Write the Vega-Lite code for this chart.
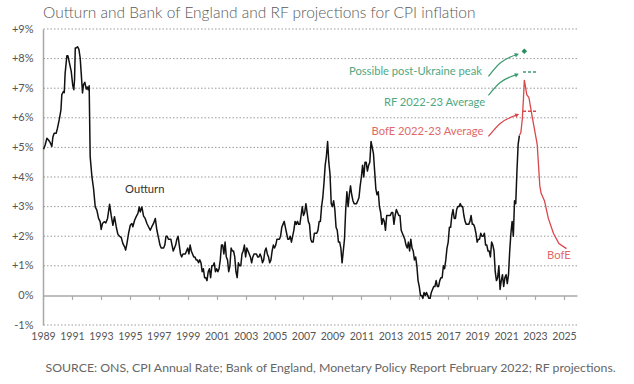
{
  "$schema": "https://vega.github.io/schema/vega-lite/v6.json",
  "width": 534,
  "height": 296,
  "autosize": "none",
  "padding": {"left": 43, "top": 29, "right": 57, "bottom": 59},
  "title": {"text": "Outturn and Bank of England and RF projections for CPI inflation", "anchor": "start", "frame": "group", "fontSize": 15.5, "fontWeight": 300, "color": "#5a5a5a", "font": "Lato", "offset": 2},
  "config": {
    "view": {"stroke": null},
    "font": "Lato",
    "axis": {"labelFont": "Lato", "titleFont": "Lato", "labelOverlap": false}
  },
  "datasets": {
    "gridlines": [{"v": -1}, {"v": 1}, {"v": 2}, {"v": 3}, {"v": 4}, {"v": 5}, {"v": 6}, {"v": 7}, {"v": 8}, {"v": 9}],
    "outturn": [
      {"t":1989.04,"v":4.94},{"t":1989.15,"v":5.08},{"t":1989.27,"v":5.31},{"t":1989.38,"v":5.25},{"t":1989.5,"v":5.16},{"t":1989.61,"v":5.03},{"t":1989.68,"v":5.34},{"t":1989.77,"v":5.48},{"t":1989.91,"v":5.48},{"t":1990.0,"v":5.65},{"t":1990.12,"v":5.93},{"t":1990.24,"v":6.27},{"t":1990.3,"v":6.78},{"t":1990.42,"v":6.89},{"t":1990.47,"v":6.85},{"t":1990.53,"v":7.51},{"t":1990.65,"v":8.1},{"t":1990.72,"v":8.1},{"t":1990.83,"v":7.85},{"t":1990.95,"v":7.57},{"t":1991.06,"v":7.08},{"t":1991.13,"v":6.95},{"t":1991.18,"v":7.29},{"t":1991.23,"v":8.36},{"t":1991.29,"v":8.36},{"t":1991.39,"v":8.4},{"t":1991.48,"v":8.31},{"t":1991.57,"v":8.02},{"t":1991.64,"v":7.51},{"t":1991.73,"v":6.84},{"t":1991.8,"v":7.12},{"t":1991.89,"v":7.2},{"t":1991.99,"v":6.97},{"t":1992.05,"v":7.04},{"t":1992.12,"v":6.95},{"t":1992.19,"v":7.08},{"t":1992.26,"v":4.69},{"t":1992.38,"v":4.01},{"t":1992.49,"v":3.62},{"t":1992.61,"v":2.99},{"t":1992.72,"v":2.88},{"t":1992.84,"v":2.6},{"t":1992.95,"v":2.49},{"t":1993.02,"v":2.23},{"t":1993.11,"v":2.43},{"t":1993.23,"v":2.49},{"t":1993.34,"v":2.45},{"t":1993.46,"v":2.6},{"t":1993.6,"v":3.08},{"t":1993.71,"v":2.71},{"t":1993.83,"v":2.37},{"t":1993.94,"v":2.66},{"t":1994.06,"v":2.32},{"t":1994.17,"v":2.07},{"t":1994.29,"v":2.0},{"t":1994.41,"v":1.95},{"t":1994.52,"v":1.75},{"t":1994.64,"v":1.64},{"t":1994.71,"v":1.53},{"t":1994.8,"v":1.75},{"t":1994.91,"v":2.09},{"t":1995.03,"v":2.37},{"t":1995.14,"v":2.43},{"t":1995.21,"v":2.32},{"t":1995.33,"v":2.54},{"t":1995.44,"v":2.66},{"t":1995.56,"v":2.77},{"t":1995.65,"v":2.99},{"t":1995.72,"v":2.82},{"t":1995.83,"v":2.99},{"t":1995.95,"v":2.68},{"t":1996.06,"v":2.6},{"t":1996.18,"v":2.43},{"t":1996.29,"v":2.32},{"t":1996.41,"v":2.2},{"t":1996.52,"v":2.32},{"t":1996.64,"v":2.43},{"t":1996.76,"v":2.6},{"t":1996.87,"v":2.2},
      {"t":1997.0,"v":1.9},{"t":1997.083,"v":1.7},{"t":1997.167,"v":1.6},{"t":1997.25,"v":1.6},{"t":1997.333,"v":1.6},{"t":1997.417,"v":1.7},{"t":1997.5,"v":2.0},{"t":1997.583,"v":2.0},{"t":1997.667,"v":1.9},{"t":1997.75,"v":1.9},{"t":1997.833,"v":1.9},{"t":1997.917,"v":1.7},
      {"t":1998.0,"v":1.5},{"t":1998.083,"v":1.6},{"t":1998.167,"v":1.7},{"t":1998.25,"v":1.9},{"t":1998.333,"v":2.0},{"t":1998.417,"v":1.7},{"t":1998.5,"v":1.4},{"t":1998.583,"v":1.3},{"t":1998.667,"v":1.4},{"t":1998.75,"v":1.4},{"t":1998.833,"v":1.4},{"t":1998.917,"v":1.5},
      {"t":1999.0,"v":1.6},{"t":1999.083,"v":1.4},{"t":1999.167,"v":1.7},{"t":1999.25,"v":1.5},{"t":1999.333,"v":1.4},{"t":1999.417,"v":1.3},{"t":1999.5,"v":1.3},{"t":1999.583,"v":1.2},{"t":1999.667,"v":1.2},{"t":1999.75,"v":1.1},{"t":1999.833,"v":1.2},{"t":1999.917,"v":1.1},
      {"t":2000.0,"v":0.8},{"t":2000.083,"v":0.9},{"t":2000.167,"v":0.6},{"t":2000.25,"v":0.6},{"t":2000.333,"v":0.5},{"t":2000.417,"v":0.8},{"t":2000.5,"v":0.9},{"t":2000.583,"v":0.6},{"t":2000.667,"v":1.0},{"t":2000.75,"v":1.0},{"t":2000.833,"v":1.1},{"t":2000.917,"v":0.8},
      {"t":2001.0,"v":0.9},{"t":2001.083,"v":0.8},{"t":2001.167,"v":0.9},{"t":2001.25,"v":1.2},{"t":2001.333,"v":1.7},{"t":2001.417,"v":1.7},{"t":2001.5,"v":1.4},{"t":2001.583,"v":1.8},{"t":2001.667,"v":1.3},{"t":2001.75,"v":1.2},{"t":2001.833,"v":0.8},{"t":2001.917,"v":1.0},
      {"t":2002.0,"v":1.6},{"t":2002.083,"v":1.5},{"t":2002.167,"v":1.5},{"t":2002.25,"v":1.3},{"t":2002.333,"v":0.8},{"t":2002.417,"v":0.6},{"t":2002.5,"v":1.1},{"t":2002.583,"v":1.0},{"t":2002.667,"v":1.0},{"t":2002.75,"v":1.4},{"t":2002.833,"v":1.5},{"t":2002.917,"v":1.7},
      {"t":2003.0,"v":1.3},{"t":2003.083,"v":1.6},{"t":2003.167,"v":1.5},{"t":2003.25,"v":1.4},{"t":2003.333,"v":1.3},{"t":2003.417,"v":1.1},{"t":2003.5,"v":1.3},{"t":2003.583,"v":1.4},{"t":2003.667,"v":1.4},{"t":2003.75,"v":1.4},{"t":2003.833,"v":1.3},{"t":2003.917,"v":1.3},
      {"t":2004.0,"v":1.4},{"t":2004.083,"v":1.3},{"t":2004.167,"v":1.1},{"t":2004.25,"v":1.2},{"t":2004.333,"v":1.5},{"t":2004.417,"v":1.6},{"t":2004.5,"v":1.4},{"t":2004.583,"v":1.3},{"t":2004.667,"v":1.1},{"t":2004.75,"v":1.2},{"t":2004.833,"v":1.5},{"t":2004.917,"v":1.7},
      {"t":2005.0,"v":1.6},{"t":2005.083,"v":1.7},{"t":2005.167,"v":1.9},{"t":2005.25,"v":1.9},{"t":2005.333,"v":1.9},{"t":2005.417,"v":2.0},{"t":2005.5,"v":2.3},{"t":2005.583,"v":2.4},{"t":2005.667,"v":2.5},{"t":2005.75,"v":2.3},{"t":2005.833,"v":2.1},{"t":2005.917,"v":1.9},
      {"t":2006.0,"v":1.9},{"t":2006.083,"v":2.0},{"t":2006.167,"v":1.8},{"t":2006.25,"v":2.0},{"t":2006.333,"v":2.2},{"t":2006.417,"v":2.5},{"t":2006.5,"v":2.4},{"t":2006.583,"v":2.5},{"t":2006.667,"v":2.4},{"t":2006.75,"v":2.4},{"t":2006.833,"v":2.7},{"t":2006.917,"v":3.0},
      {"t":2007.0,"v":2.7},{"t":2007.083,"v":2.8},{"t":2007.167,"v":3.1},{"t":2007.25,"v":2.8},{"t":2007.333,"v":2.5},{"t":2007.417,"v":2.4},{"t":2007.5,"v":1.9},{"t":2007.583,"v":1.8},{"t":2007.667,"v":1.8},{"t":2007.75,"v":2.1},{"t":2007.833,"v":2.1},{"t":2007.917,"v":2.1},
      {"t":2008.0,"v":2.2},{"t":2008.083,"v":2.5},{"t":2008.167,"v":2.5},{"t":2008.25,"v":3.0},{"t":2008.333,"v":3.3},{"t":2008.417,"v":3.8},{"t":2008.5,"v":4.4},{"t":2008.583,"v":4.7},{"t":2008.667,"v":5.2},{"t":2008.75,"v":4.5},{"t":2008.833,"v":4.1},{"t":2008.917,"v":3.1},
      {"t":2009.0,"v":3.0},{"t":2009.083,"v":3.2},{"t":2009.167,"v":2.9},{"t":2009.25,"v":2.3},{"t":2009.333,"v":2.2},{"t":2009.417,"v":1.8},{"t":2009.5,"v":1.8},{"t":2009.583,"v":1.6},{"t":2009.667,"v":1.1},{"t":2009.75,"v":1.5},{"t":2009.833,"v":1.9},{"t":2009.917,"v":2.9},
      {"t":2010.0,"v":3.5},{"t":2010.083,"v":3.0},{"t":2010.167,"v":3.4},{"t":2010.25,"v":3.7},{"t":2010.333,"v":3.4},{"t":2010.417,"v":3.2},{"t":2010.5,"v":3.1},{"t":2010.583,"v":3.1},{"t":2010.667,"v":3.1},{"t":2010.75,"v":3.2},{"t":2010.833,"v":3.3},{"t":2010.917,"v":3.7},
      {"t":2011.0,"v":4.0},{"t":2011.083,"v":4.4},{"t":2011.167,"v":4.0},{"t":2011.25,"v":4.5},{"t":2011.333,"v":4.5},{"t":2011.417,"v":4.2},{"t":2011.5,"v":4.4},{"t":2011.583,"v":4.5},{"t":2011.667,"v":5.2},{"t":2011.75,"v":5.0},{"t":2011.833,"v":4.8},{"t":2011.917,"v":4.2},
      {"t":2012.0,"v":3.6},{"t":2012.083,"v":3.4},{"t":2012.167,"v":3.5},{"t":2012.25,"v":3.0},{"t":2012.333,"v":2.8},{"t":2012.417,"v":2.4},{"t":2012.5,"v":2.6},{"t":2012.583,"v":2.5},{"t":2012.667,"v":2.2},{"t":2012.75,"v":2.7},{"t":2012.833,"v":2.7},{"t":2012.917,"v":2.7},
      {"t":2013.0,"v":2.7},{"t":2013.083,"v":2.8},{"t":2013.167,"v":2.8},{"t":2013.25,"v":2.4},{"t":2013.333,"v":2.7},{"t":2013.417,"v":2.9},{"t":2013.5,"v":2.8},{"t":2013.583,"v":2.7},{"t":2013.667,"v":2.7},{"t":2013.75,"v":2.2},{"t":2013.833,"v":2.1},{"t":2013.917,"v":2.0},
      {"t":2014.0,"v":1.9},{"t":2014.083,"v":1.7},{"t":2014.167,"v":1.6},{"t":2014.25,"v":1.8},{"t":2014.333,"v":1.5},{"t":2014.417,"v":1.9},{"t":2014.5,"v":1.6},{"t":2014.583,"v":1.5},{"t":2014.667,"v":1.2},{"t":2014.75,"v":1.3},{"t":2014.833,"v":1.0},{"t":2014.917,"v":0.5},
      {"t":2015.0,"v":0.3},{"t":2015.083,"v":0.0},{"t":2015.167,"v":0.0},{"t":2015.25,"v":-0.1},{"t":2015.333,"v":0.1},{"t":2015.417,"v":0.0},{"t":2015.5,"v":0.1},{"t":2015.583,"v":0.0},{"t":2015.667,"v":-0.1},{"t":2015.75,"v":-0.1},{"t":2015.833,"v":0.1},{"t":2015.917,"v":0.2},
      {"t":2016.0,"v":0.3},{"t":2016.083,"v":0.3},{"t":2016.167,"v":0.5},{"t":2016.25,"v":0.3},{"t":2016.333,"v":0.3},{"t":2016.417,"v":0.5},{"t":2016.5,"v":0.6},{"t":2016.583,"v":0.6},{"t":2016.667,"v":1.0},{"t":2016.75,"v":0.9},{"t":2016.833,"v":1.2},{"t":2016.917,"v":1.6},
      {"t":2017.0,"v":1.8},{"t":2017.083,"v":2.3},{"t":2017.167,"v":2.3},{"t":2017.25,"v":2.7},{"t":2017.333,"v":2.9},{"t":2017.417,"v":2.6},{"t":2017.5,"v":2.6},{"t":2017.583,"v":2.9},{"t":2017.667,"v":3.0},{"t":2017.75,"v":3.0},{"t":2017.833,"v":3.1},{"t":2017.917,"v":3.0},
      {"t":2018.0,"v":3.0},{"t":2018.083,"v":2.7},{"t":2018.167,"v":2.5},{"t":2018.25,"v":2.4},{"t":2018.333,"v":2.4},{"t":2018.417,"v":2.4},{"t":2018.5,"v":2.5},{"t":2018.583,"v":2.7},{"t":2018.667,"v":2.4},{"t":2018.75,"v":2.4},{"t":2018.833,"v":2.3},{"t":2018.917,"v":2.1},
      {"t":2019.0,"v":1.8},{"t":2019.083,"v":1.9},{"t":2019.167,"v":1.9},{"t":2019.25,"v":2.1},{"t":2019.333,"v":2.0},{"t":2019.417,"v":2.0},{"t":2019.5,"v":2.1},{"t":2019.583,"v":1.7},{"t":2019.667,"v":1.7},{"t":2019.75,"v":1.5},{"t":2019.833,"v":1.5},{"t":2019.917,"v":1.3},
      {"t":2020.0,"v":1.8},{"t":2020.083,"v":1.7},{"t":2020.167,"v":1.5},{"t":2020.25,"v":0.8},{"t":2020.333,"v":0.5},{"t":2020.417,"v":0.6},{"t":2020.5,"v":1.0},{"t":2020.583,"v":0.2},{"t":2020.667,"v":0.5},{"t":2020.75,"v":0.7},{"t":2020.833,"v":0.3},{"t":2020.917,"v":0.6},
      {"t":2021.0,"v":0.7},{"t":2021.083,"v":0.4},{"t":2021.167,"v":0.7},{"t":2021.25,"v":1.5},{"t":2021.333,"v":2.1},{"t":2021.417,"v":2.5},{"t":2021.5,"v":2.0},{"t":2021.583,"v":3.2},{"t":2021.667,"v":3.1},{"t":2021.75,"v":4.2},{"t":2021.833,"v":5.1},{"t":2021.917,"v":5.4}
    ],
    "bofe": [
      {"t":2021.917,"v":5.4},{"t":2022.02,"v":5.5},{"t":2022.12,"v":5.95},{"t":2022.2,"v":6.65},{"t":2022.26,"v":7.28},{"t":2022.43,"v":6.78},{"t":2022.58,"v":6.68},{"t":2022.8,"v":6.05},{"t":2023.15,"v":5.1},{"t":2023.33,"v":3.7},{"t":2023.42,"v":3.45},{"t":2023.65,"v":3.2},{"t":2023.92,"v":2.6},{"t":2024.27,"v":2.1},{"t":2024.65,"v":1.75},{"t":2025.17,"v":1.58}
    ]
  },
  "layer": [
    {
      "data": {"name": "gridlines"},
      "mark": {"type": "rule", "color": "#9a9a9a", "strokeWidth": 1, "strokeDash": [1.5, 2], "opacity": 1},
      "encoding": {
        "y": {"field": "v", "type": "quantitative",
          "scale": {"domain": [-1, 9], "nice": false, "zero": false},
          "axis": {"values": [-1,0,1,2,3,4,5,6,7,8,9],
            "labelExpr": "(datum.value > 0 ? '+' : '') + datum.value + '%'",
            "grid": false, "labelOverlap": false,
            "domainColor": "#a8a8a8", "domainWidth": 1.5, "ticks": false, "labelPadding": 10,
            "labelFontSize": 11, "labelColor": "#555555", "title": null}}
      }
    },
    {
      "encoding": {
        "x": {"field": "t", "type": "quantitative",
          "scale": {"domain": [1989, 2025.9], "nice": false, "zero": false},
          "axis": {"values": [1989,1991,1993,1995,1997,1999,2001,2003,2005,2007,2009,2011,2013,2015,2017,2019,2021,2023,2025],
            "format": "d", "offset": -29.6, "grid": false, "domainColor": "#a8a8a8", "domainWidth": 1.5,
            "tickColor": "#a8a8a8", "tickWidth": 1.2, "tickSize": 4, "labelPadding": 32, "labelFlush": false, "labelOverlap": false,
            "labelFontSize": 10.5, "labelColor": "#555555",
            "title": "SOURCE: ONS, CPI Annual Rate; Bank of England, Monetary Policy Report February 2022; RF projections.",
            "titleAnchor": "start", "titleAlign": "left", "titleFontWeight": "normal", "titleFontSize": 12.3, "titleColor": "#666666", "titlePadding": 20, "titleX": 2}},
        "y": {"field": "v", "type": "quantitative",
          "scale": {"domain": [-1, 9], "nice": false, "zero": false},
          "axis": {"values": [-1,0,1,2,3,4,5,6,7,8,9],
            "labelExpr": "(datum.value > 0 ? '+' : '') + datum.value + '%'",
            "grid": false, "labelOverlap": false,
            "domainColor": "#a8a8a8", "domainWidth": 1.5, "ticks": false, "labelPadding": 10,
            "labelFontSize": 11, "labelColor": "#555555", "title": null}}
      },
      "layer": [
        {
          "data": {"name": "outturn"},
          "mark": {"type": "line", "color": "#111111", "strokeWidth": 1.5, "strokeJoin": "round"}
        },
        {
          "data": {"name": "bofe"},
          "mark": {"type": "line", "color": "#d9474b", "strokeWidth": 1.3}
        },
        {
          "data": {"values": [{"t": 2022.17, "t2": 2023.17, "v": 7.55}]},
          "mark": {"type": "rule", "color": "#3c9a70", "strokeWidth": 1.5, "strokeDash": [3, 2]},
          "encoding": {"x2": {"field": "t2"}}
        },
        {
          "data": {"values": [{"t": 2022.17, "t2": 2023.17, "v": 6.22}]},
          "mark": {"type": "rule", "color": "#d9474b", "strokeWidth": 1.5, "strokeDash": [3, 2]},
          "encoding": {"x2": {"field": "t2"}}
        },
        {
          "data": {"values": [{"t": 2022.26, "v": 8.25}]},
          "mark": {"type": "point", "shape": "diamond", "filled": true, "color": "#2a8c5e", "size": 30, "opacity": 1}
        },
        {
          "data": {"values": [{"t": 2019.78, "v": 7.40}, {"t": 2020.59, "v": 7.85}, {"t": 2021.75, "v": 8.14}]},
          "mark": {"type": "line", "color": "#3c9a70", "strokeWidth": 1.2, "interpolate": "monotone"}
        },
        {
          "data": {"values": [{"t": 2019.78, "v": 6.76}, {"t": 2020.59, "v": 7.19}, {"t": 2021.75, "v": 7.46}]},
          "mark": {"type": "line", "color": "#3c9a70", "strokeWidth": 1.2, "interpolate": "monotone"}
        },
        {
          "data": {"values": [{"t": 2019.78, "v": 5.37}, {"t": 2020.59, "v": 5.81}, {"t": 2021.77, "v": 6.10}]},
          "mark": {"type": "line", "color": "#d9474b", "strokeWidth": 1.2, "interpolate": "monotone"}
        },
        {
          "data": {"values": [{"t": 2021.75, "v": 8.14}, {"t": 2021.75, "v": 7.46}]},
          "mark": {"type": "point", "shape": "triangle-right", "filled": true, "color": "#3c9a70", "size": 22, "angle": 338, "opacity": 1}
        },
        {
          "data": {"values": [{"t": 2021.77, "v": 6.10}]},
          "mark": {"type": "point", "shape": "triangle-right", "filled": true, "color": "#d9474b", "size": 22, "angle": 338, "opacity": 1}
        },
        {
          "data": {"values": [{"label": "Possible post-Ukraine peak", "t": 2019.33, "v": 7.54}, {"label": "RF 2022-23 Average", "t": 2019.56, "v": 6.51}]},
          "mark": {"type": "text", "align": "right", "baseline": "middle", "font": "Lato", "fontSize": 11.2, "color": "#4fa87f"},
          "encoding": {"text": {"field": "label"}}
        },
        {
          "data": {"values": [{"label": "BofE 2022-23 Average", "t": 2019.44, "v": 5.52}]},
          "mark": {"type": "text", "align": "right", "baseline": "middle", "font": "Lato", "fontSize": 11.2, "color": "#e06a6a"},
          "encoding": {"text": {"field": "label"}}
        },
        {
          "data": {"values": [{"label": "BofE", "t": 2024.65, "v": 1.32}]},
          "mark": {"type": "text", "align": "center", "baseline": "middle", "font": "Lato", "fontSize": 11.2, "color": "#e06a6a"},
          "encoding": {"text": {"field": "label"}}
        },
        {
          "data": {"values": [{"label": "Outturn", "t": 1996.03, "v": 3.55}]},
          "mark": {"type": "text", "align": "center", "baseline": "middle", "font": "Lato", "fontSize": 11.2, "color": "#333333"},
          "encoding": {"text": {"field": "label"}}
        }
      ]
    }
  ]
}
